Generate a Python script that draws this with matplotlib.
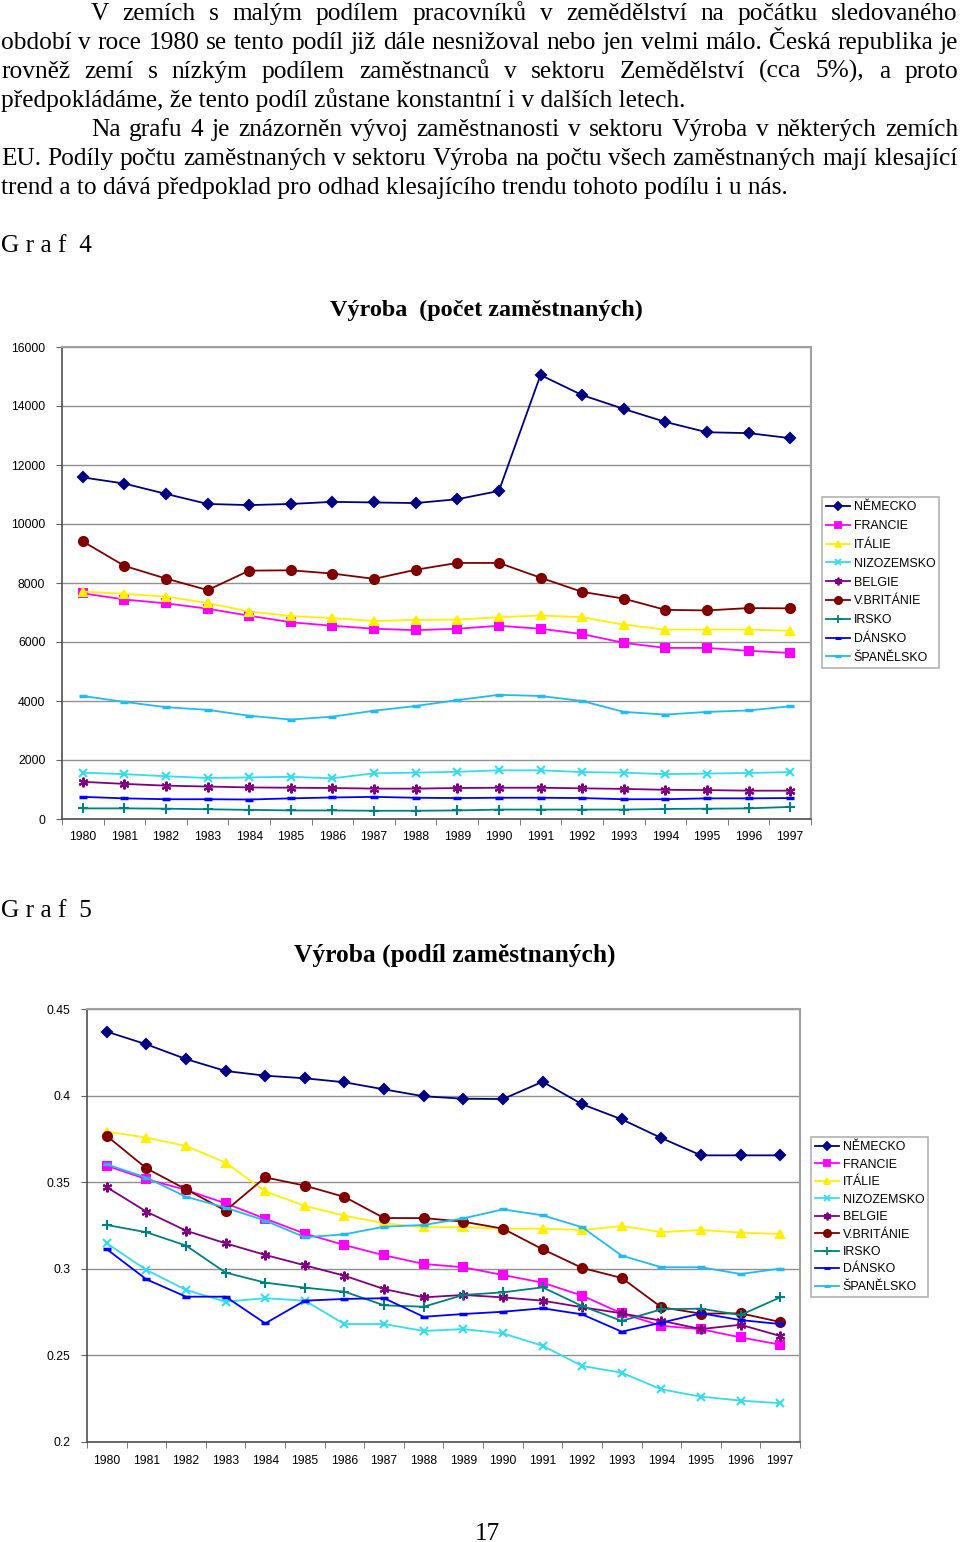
import matplotlib
matplotlib.use("Agg")
import matplotlib.pyplot as plt
from matplotlib.lines import Line2D

W, H = 960, 1542

years = [str(y) for y in range(1980, 1998)]
countries = ["NĚMECKO", "FRANCIE", "ITÁLIE", "NIZOZEMSKO", "BELGIE",
             "V.BRITÁNIE", "IRSKO", "DÁNSKO", "ŠPANĚLSKO"]

# graf 4 - pocet zamestnanych (tis.)
pocet_nemecko = [11580, 11370, 11020, 10680, 10640, 10680, 10750, 10730, 10710,
                 10840, 11120, 15050, 14370, 13900, 13460, 13110, 13080, 12910]
pocet_francie = [7650, 7440, 7310, 7130, 6890, 6670, 6550, 6450, 6400,
                 6450, 6550, 6450, 6270, 5970, 5800, 5800, 5700, 5630]
pocet_italie = [7710, 7630, 7540, 7320, 7030, 6880, 6810, 6710, 6750,
                6760, 6840, 6900, 6840, 6590, 6420, 6420, 6420, 6380]
pocet_nizozemsko = [1570, 1520, 1450, 1390, 1410, 1430, 1380, 1550, 1570,
                    1600, 1650, 1650, 1590, 1570, 1520, 1540, 1560, 1590]
pocet_belgie = [1260, 1190, 1130, 1100, 1070, 1060, 1050, 1030, 1030,
                1050, 1060, 1060, 1040, 1020, 990, 980, 960, 960]
pocet_britanie = [9410, 8580, 8150, 7760, 8420, 8430, 8320, 8140, 8450,
                  8680, 8680, 8180, 7700, 7470, 7090, 7070, 7150, 7140]
pocet_irsko = [360, 360, 350, 330, 310, 290, 290, 280, 280,
               290, 320, 320, 320, 320, 340, 350, 360, 410]
pocet_dansko = [750, 700, 670, 670, 660, 700, 730, 750, 720,
                710, 720, 720, 710, 670, 670, 700, 700, 710]
pocet_spanelsko = [4170, 3970, 3790, 3700, 3500, 3370, 3470, 3670, 3830,
                   4030, 4210, 4170, 4000, 3630, 3540, 3630, 3680, 3820]

# graf 5 - podil zamestnanych
podil_nemecko = [0.4369, 0.4296, 0.4211, 0.4142, 0.4115, 0.4100, 0.4077, 0.4036, 0.3996,
                 0.3982, 0.3980, 0.4080, 0.3950, 0.3863, 0.3755, 0.3655, 0.3655, 0.3655]
podil_francie = [0.3594, 0.3518, 0.3455, 0.3378, 0.3289, 0.3203, 0.3137, 0.3078, 0.3028,
                 0.3009, 0.2964, 0.2920, 0.2845, 0.2743, 0.2671, 0.2651, 0.2604, 0.2562]
podil_italie = [0.3792, 0.3757, 0.3709, 0.3613, 0.3447, 0.3363, 0.3307, 0.3263, 0.3240,
                0.3241, 0.3232, 0.3232, 0.3224, 0.3247, 0.3212, 0.3224, 0.3209, 0.3201]
podil_nizozemsko = [0.3147, 0.2993, 0.2878, 0.2810, 0.2830, 0.2816, 0.2681, 0.2681, 0.2641,
                    0.2652, 0.2627, 0.2556, 0.2439, 0.2400, 0.2304, 0.2262, 0.2239, 0.2224]
podil_belgie = [0.3471, 0.3330, 0.3220, 0.3147, 0.3080, 0.3020, 0.2960, 0.2883, 0.2835,
                0.2849, 0.2835, 0.2816, 0.2778, 0.2743, 0.2700, 0.2652, 0.2677, 0.2612]
podil_britanie = [0.3767, 0.3580, 0.3459, 0.3336, 0.3528, 0.3480, 0.3415, 0.3293, 0.3293,
                  0.3272, 0.3232, 0.3113, 0.3005, 0.2947, 0.2778, 0.2741, 0.2743, 0.2693]
podil_irsko = [0.3253, 0.3211, 0.3134, 0.2978, 0.2920, 0.2891, 0.2868, 0.2789, 0.2781,
               0.2849, 0.2864, 0.2893, 0.2785, 0.2699, 0.2766, 0.2770, 0.2733, 0.2835]
podil_dansko = [0.3113, 0.2939, 0.2839, 0.2839, 0.2685, 0.2816, 0.2826, 0.2830, 0.2723,
                0.2739, 0.2752, 0.2772, 0.2737, 0.2637, 0.2689, 0.2743, 0.2704, 0.2681]
podil_spanelsko = [0.3603, 0.3526, 0.3416, 0.3353, 0.3278, 0.3182, 0.3199, 0.3243, 0.3253,
                   0.3291, 0.3343, 0.3309, 0.3240, 0.3076, 0.3009, 0.3009, 0.2970, 0.3001]

pocet = [pocet_nemecko, pocet_francie, pocet_italie, pocet_nizozemsko, pocet_belgie,
         pocet_britanie, pocet_irsko, pocet_dansko, pocet_spanelsko]
podil = [podil_nemecko, podil_francie, podil_italie, podil_nizozemsko, podil_belgie,
         podil_britanie, podil_irsko, podil_dansko, podil_spanelsko]

# excel style: barva, marker, velikost
styles = [("#000080", "D", 5), ("#FF00FF", "s", 6), ("#FFF000", "^", 6),
          ("#33DDEE", "x", 6), ("#800080", (6, 2, 0), 7), ("#800000", "o", 6.5),
          ("#008080", "+", 7), ("#0000FF", "_", 5.5), ("#22BBEE", "_", 5.5)]

plt.rcParams["font.family"] = ["Liberation Sans", "DejaVu Sans"]
SERIF = ["Liberation Serif", "DejaVu Serif"]

fig = plt.figure(figsize=(W / 100, H / 100), dpi=100)
rend = fig.canvas.get_renderer()


def px(x, y):
    return x / W, 1 - y / H


def text_width(s, size, **kw):
    t = fig.text(0, 0, s, fontsize=size, family=SERIF, **kw)
    w = t.get_window_extent(rend).width
    t.remove()
    return w


def line(s, y, x0, x1, size, justify=True):
    words = s.split()
    if not justify:
        fig.text(*px(x0, y), s, fontsize=size, family=SERIF, va="baseline")
        return
    widths = [text_width(w, size) for w in words]
    gap = (x1 - x0 - sum(widths)) / (len(words) - 1)
    x = x0
    for w, wd in zip(words, widths):
        fig.text(*px(x, y), w, fontsize=size, family=SERIF, va="baseline")
        x += wd + gap


last = "předpokládáme, že tento podíl zůstane konstantní i v dalších letech."
fs = 18 * 686 / text_width(last, 18)

line("V zemích s malým podílem pracovníků v zemědělství na počátku sledovaného", 20, 91, 958, fs)
line("období v roce 1980 se tento podíl již dále nesnižoval nebo jen velmi málo. Česká republika je", 49, 1, 958, fs)
line("rovněž zemí s nízkým podílem zaměstnanců v sektoru Zemědělství (cca 5%), a proto", 78, 1, 958, fs)
line(last, 107, 1, 958, fs, justify=False)
line("Na grafu 4 je znázorněn vývoj zaměstnanosti v sektoru Výroba v některých zemích", 136, 91, 958, fs)
line("EU. Podíly počtu zaměstnaných v sektoru Výroba na počtu všech zaměstnaných mají klesající", 165, 1, 958, fs)
line("trend a to dává předpoklad pro odhad klesajícího trendu tohoto podílu i u nás.", 194, 1, 958, fs, justify=False)

fig.text(*px(1, 252), "G r a f  4", fontsize=fs, family=SERIF, va="baseline")
fig.text(*px(1, 917), "G r a f  5", fontsize=fs, family=SERIF, va="baseline")
fig.text(*px(486, 316), "Výroba  (počet zaměstnaných)", fontsize=17.4, family=SERIF,
         weight="bold", ha="center", va="baseline")
fig.text(*px(455, 962), "Výroba (podíl zaměstnaných)", fontsize=18.4, family=SERIF,
         weight="bold", ha="center", va="baseline")
fig.text(*px(487, 1540), "17", fontsize=fs, family=SERIF, ha="center", va="baseline")


def make_axes(box, data, ylim, yticks, ylabels, legend_xy, lspace):
    l, t, r, b = box
    ax = fig.add_axes([l / W, 1 - b / H, (r - l) / W, (b - t) / H])
    xs = list(range(len(years)))
    for vals, (c, m, ms) in zip(data, styles):
        mew = 2.5 if m == "_" else 1.5
        ax.plot(xs, vals, color=c, lw=1.3, marker=m, ms=ms, mfc=c, mec=c, mew=mew)
    ax.set_xlim(-0.5, len(years) - 0.5)
    ax.set_ylim(*ylim)
    ax.set_yticks(yticks)
    ax.set_yticklabels(ylabels)
    ax.set_xticks(xs)
    ax.set_xticklabels(years)
    ax.set_xticks([i - 0.5 for i in range(len(years) + 1)], minor=True)
    ax.tick_params(axis="x", which="major", length=0, labelsize=8.7, pad=9)
    ax.tick_params(axis="x", which="minor", length=4, direction="out", color="#606060")
    ax.tick_params(axis="y", length=4, direction="out", labelsize=8.7, pad=8, color="#606060")
    ax.grid(axis="y", color="#909090", lw=1)
    ax.set_axisbelow(True)
    for s in ("left", "bottom"):
        ax.spines[s].set_color("#505050")
        ax.spines[s].set_linewidth(1.2)
    for s in ("top", "right"):
        ax.spines[s].set_color("#A0A0A0")
        ax.spines[s].set_linewidth(1.5)
    handles = []
    for c, m, ms in styles:
        mew = 2.2 if m == "_" else 1.3
        handles.append(Line2D([], [], color=c, lw=1.3, marker=m, ms=ms * 0.8,
                              mfc=c, mec=c, mew=mew))
    leg = fig.legend(handles, countries, loc="upper left",
                     bbox_to_anchor=px(*legend_xy), fontsize=8.9, frameon=True,
                     fancybox=False, edgecolor="#A0A0A0", handlelength=1.9,
                     handletextpad=0.3, labelspacing=lspace, borderpad=0.35,
                     borderaxespad=0)
    leg.get_frame().set_linewidth(1.2)
    return ax


make_axes((62, 347, 811, 819), pocet, (0, 16000), list(range(0, 16001, 2000)),
          [str(v) for v in range(0, 16001, 2000)], (822, 497), 0.55)
make_axes((87, 1009, 800, 1442), podil, (0.2, 0.45), [0.2, 0.25, 0.3, 0.35, 0.4, 0.45],
          ["0.2", "0.25", "0.3", "0.35", "0.4", "0.45"], (811, 1137), 0.44)

fig.savefig("out.png", dpi=100)
